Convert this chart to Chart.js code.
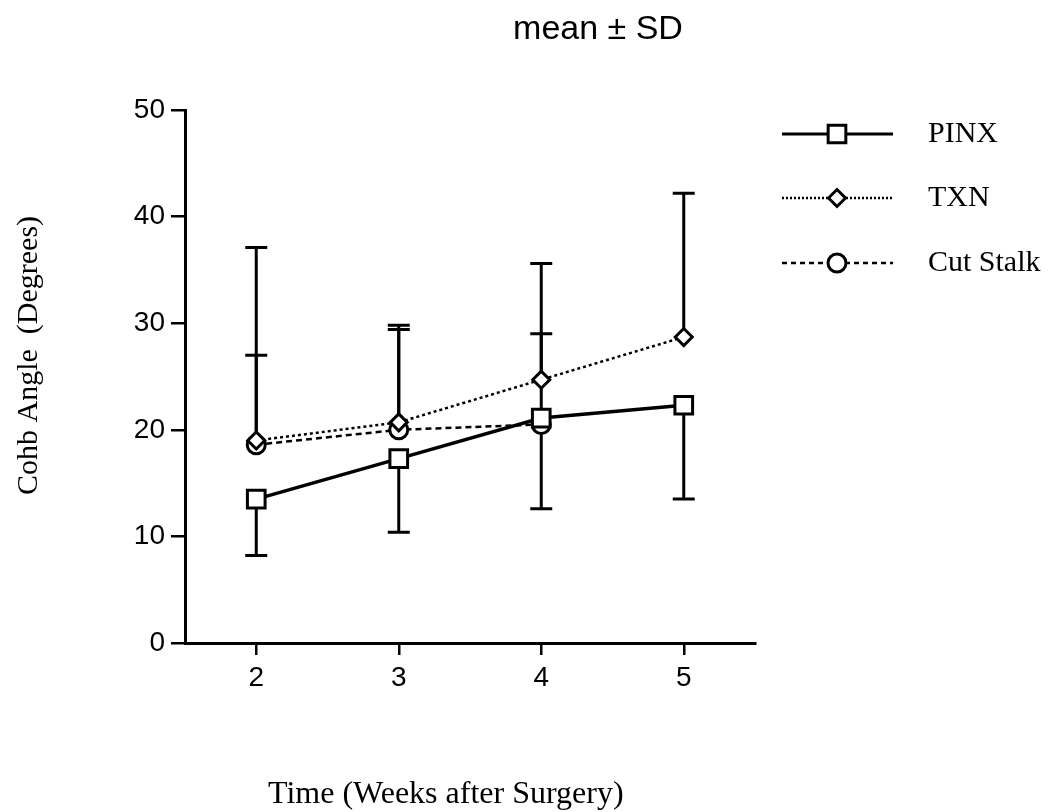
<!DOCTYPE html>
<html>
<head>
<meta charset="utf-8">
<script src="https://cdn.jsdelivr.net/npm/chart.js@4/dist/chart.umd.min.js"></script>
<style>
	html, body { margin: 0; padding: 0; background: #fff; }
	#wrap { width: 1057px; height: 812px; position: relative; }
</style>
</head>
<body>
<div id="wrap"><canvas id="cobb"></canvas></div>
<script>
// weeks after surgery
const weeks = [2, 3, 4, 5];
const x_ticks = [2, 3, 4, 5];

// group means (degrees)
const pinx_mean = [13.5, 17.3, 21.1, 22.3];
const txn_mean = [19.0, 20.7, 24.7, 28.7];
const cut_mean = [18.6, 20.0, 20.5];

// one-sided SD: PINX drawn downward, the others upward
const pinx_sd = [5.3, 6.9, 8.5, 8.8];
const txn_sd = [18.1, 9.1, 10.9, 13.5];
const cut_sd = [8.4, 9.4, 8.5];

const chart_title = "mean ± SD";
const x_title = "Time (Weeks after Surgery)";
const y_title = "Cohb Angle  (Degrees)";

const serif = "'Liberation Serif', 'DejaVu Serif', serif";
const sans = "'Liberation Sans', 'DejaVu Sans', sans-serif";

function pts (means) {
	return means.map((v, i) => ({ x: weeks[i], y: v }));
}

const error_bars = {
	id: "error_bars",
	beforeDatasetsDraw (chart) {
		let ctx = chart.ctx;
		let xs = chart.scales.x;
		let ys = chart.scales.y;
		ctx.save();
		ctx.strokeStyle = "#000";
		ctx.lineWidth = 3;
		ctx.setLineDash([]);
		chart.data.datasets.forEach(ds => {
			ds.data.forEach((p, i) => {
				let sd = ds.sd[i];
				let end = ds.sd_dir < 0 ? p.y - sd : p.y + sd;
				let px = xs.getPixelForValue(p.x);
				let y0 = ys.getPixelForValue(p.y);
				let y1 = ys.getPixelForValue(end);
				ctx.beginPath();
				ctx.moveTo(px, y0);
				ctx.lineTo(px, y1);
				ctx.moveTo(px - 11, y1);
				ctx.lineTo(px + 11, y1);
				ctx.stroke();
			});
		});
		ctx.restore();
	}
};

// titles and the line + marker legend on the right
const annotations = {
	id: "annotations",
	afterDraw (chart) {
		let ctx = chart.ctx;
		ctx.save();
		ctx.fillStyle = "#000";
		ctx.textBaseline = "alphabetic";

		ctx.font = "34px " + sans;
		ctx.textAlign = "center";
		ctx.fillText(chart_title, 598, 39);

		ctx.font = "32px " + serif;
		ctx.textAlign = "left";
		ctx.fillText(x_title, 268, 803);

		ctx.save();
		ctx.translate(37, 495);
		ctx.rotate(-Math.PI / 2);
		ctx.font = "30px " + serif;
		ctx.textAlign = "left";
		ctx.fillText(y_title, 0, 0);
		ctx.restore();

		chart.data.datasets.forEach((ds, i) => {
			let y = [134, 198, 263][i];
			let x0 = 782, x1 = 893, xm = 837;
			ctx.strokeStyle = "#000";
			ctx.lineWidth = ds.legendWidth || ds.borderWidth;
			ctx.setLineDash(ds.legendDash || ds.borderDash || []);
			ctx.beginPath();
			ctx.moveTo(x0, y);
			ctx.lineTo(x1, y);
			ctx.stroke();
			ctx.setLineDash([]);
			ctx.fillStyle = "#fff";
			ctx.lineWidth = ds.pointBorderWidth;
			Chart.helpers.drawPoint(ctx, {
				pointStyle: ds.pointStyle,
				radius: ds.pointRadius,
				rotation: 0,
				borderWidth: ds.pointBorderWidth
			}, xm, y);
			ctx.fillStyle = "#000";
			ctx.font = "30px " + serif;
			ctx.textBaseline = "middle";
			ctx.textAlign = "left";
			ctx.fillText(ds.label, 928, y);
		});
		ctx.restore();
	}
};

const datasets = [
	{
		label: "PINX",
		data: pts(pinx_mean),
		sd: pinx_sd,
		sd_dir: -1,
		borderColor: "#000",
		borderWidth: 3.5,
		legendWidth: 3,
		pointStyle: "rect",
		pointRadius: 12.5,
		pointBorderWidth: 3,
		pointBackgroundColor: "#fff",
		pointBorderColor: "#000",
		order: 1
	},
	{
		label: "TXN",
		data: pts(txn_mean),
		sd: txn_sd,
		sd_dir: 1,
		borderColor: "#000",
		borderWidth: 2.5,
		borderDash: [3, 3],
		legendDash: [2, 2],
		pointStyle: "rectRot",
		pointRadius: 8.5,
		pointBorderWidth: 3,
		pointBackgroundColor: "#fff",
		pointBorderColor: "#000",
		order: 2
	},
	{
		label: "Cut Stalk",
		data: pts(cut_mean),
		sd: cut_sd,
		sd_dir: 1,
		borderColor: "#000",
		borderWidth: 2.5,
		borderDash: [6, 4],
		legendDash: [5, 4],
		pointStyle: "circle",
		pointRadius: 9,
		pointBorderWidth: 3,
		pointBackgroundColor: "#fff",
		pointBorderColor: "#000",
		order: 3
	}
];

Chart.defaults.color = "#000";

new Chart(document.getElementById("cobb"), {
	type: "line",
	data: { datasets },
	plugins: [error_bars, annotations],
	options: {
		responsive: true,
		maintainAspectRatio: false,
		animation: false,
		layout: { padding: { top: 110, right: 302, bottom: 0, left: 0 } },
		plugins: {
			legend: { display: false },
			tooltip: { enabled: false },
			title: { display: false }
		},
		scales: {
			x: {
				type: "linear",
				min: 1.5,
				max: 5.5,
				afterBuildTicks: s => { s.ticks = x_ticks.map(v => ({ value: v })); },
				afterFit: s => { s.height = 169; },
				border: { display: true, color: "#000", width: 3 },
				grid: { display: true, drawOnChartArea: false, drawTicks: true, tickLength: 12, color: "#000", lineWidth: 2.5 },
				ticks: { font: { family: sans, size: 28 }, color: "#000", padding: 6 }
			},
			y: {
				min: 0,
				max: 50,
				ticks: { stepSize: 10, font: { family: sans, size: 28 }, color: "#000", padding: 6 },
				afterFit: s => { s.width = 185; },
				border: { display: true, color: "#000", width: 3 },
				grid: { display: true, drawOnChartArea: false, drawTicks: true, tickLength: 14, color: "#000", lineWidth: 2.5 }
			}
		}
	}
});
</script>
</body>
</html>
